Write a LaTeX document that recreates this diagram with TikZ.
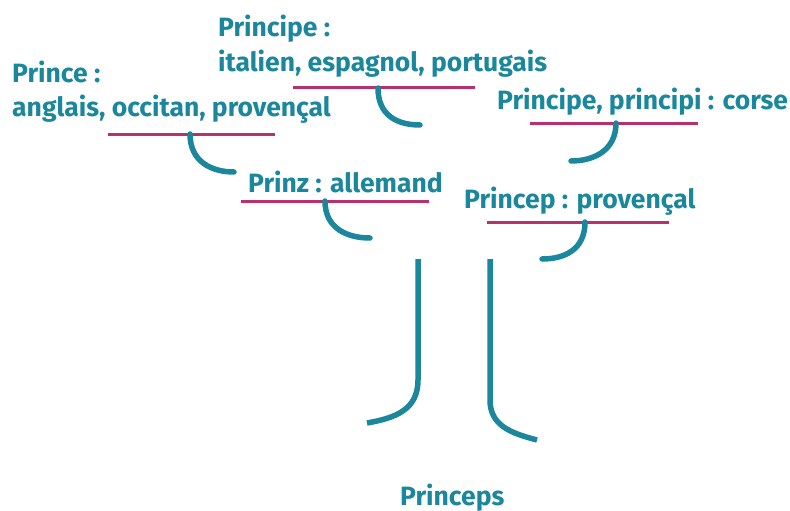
\documentclass[tikz,border=0pt]{standalone}
\usepackage{fontspec}
\setmainfont{Fira Sans}
\usetikzlibrary{calc}
\definecolor{branchteal}{HTML}{1A879C}
\definecolor{rootpink}{HTML}{B8306E}
\tikzset{
    lang/.style={anchor=base west, inner sep=0pt, text=branchteal,
        font=\bfseries\fontsize{26.5}{30}\selectfont},
    underline/.style={draw=rootpink, line width=3pt},
    hook/.style={draw=branchteal, line width=5.5pt, line cap=round},
    trunk/.style={draw=branchteal, line width=5.5pt}
}

\begin{document}
\begin{tikzpicture}[x=1pt,y=-1pt]
        \useasboundingbox (0,0) rectangle (790,511);
        \node[lang] (principe) at (218,37) {Principe :};
        \node[lang] (principelangs) at (218,72) {italien, espagnol, portugais};
        \node[lang] (prince) at (12,82) {Prince :};
        \node[lang] (princelangs) at (12,117) {anglais, occitan, provençal};
        \node[lang] (corse) at (497,109) {Principe, principi : corse};
        \node[lang] (prinz) at (248,192) {Prinz : allemand};
        \node[lang] (princep) at (464,208) {Princep : provençal};
        \node[lang] (princeps) at (400,505) {Princeps};
        \coordinate (u1a) at (293,88);  \coordinate (u1b) at (475,88);
        \coordinate (u2a) at (108,134); \coordinate (u2b) at (275,134);
        \coordinate (u3a) at (530,123); \coordinate (u3b) at (698,123);
        \coordinate (u4a) at (241,201); \coordinate (u4b) at (429,201);
        \coordinate (u5a) at (487,222); \coordinate (u5b) at (669,222);
        \draw[underline] (u1a) -- (u1b);
        \draw[underline] (u2a) -- (u2b);
        \draw[underline] (u3a) -- (u3b);
        \draw[underline] (u4a) -- (u4b);
        \draw[underline] (u5a) -- (u5b);
        \coordinate (h1) at (378,88);  \coordinate (e1) at (420,125);
        \coordinate (h2) at (190,134); \coordinate (e2) at (234,172);
        \coordinate (h3) at (325,201); \coordinate (e3) at (370,238);
        \coordinate (h4) at (616,123); \coordinate (e4) at (571,161);
        \coordinate (h5) at (585,222); \coordinate (e5) at (542,259);
        \draw[hook] (h1) .. controls ($(h1)+(0,28)$) and ($(e1)+(-22,0)$) .. (e1);
        \draw[hook] (h2) .. controls ($(h2)+(0,28)$) and ($(e2)+(-22,0)$) .. (e2);
        \draw[hook] (h3) .. controls ($(h3)+(0,28)$) and ($(e3)+(-22,0)$) .. (e3);
        \draw[hook] (h4) .. controls ($(h4)+(0,28)$) and ($(e4)+(22,0)$) .. (e4);
        \draw[hook] (h5) .. controls ($(h5)+(0,28)$) and ($(e5)+(22,0)$) .. (e5);
        \coordinate (t1) at (418,259); \coordinate (r1) at (367,423);
        \coordinate (t2) at (490,259); \coordinate (r2) at (537,440);
        \draw[trunk] (t1) -- (418,380) .. controls (418,410) and (395,418) .. (r1);
        \draw[trunk] (t2) -- (490,400) .. controls (490,425) and (510,433) .. (r2);
\end{tikzpicture}
\end{document}
